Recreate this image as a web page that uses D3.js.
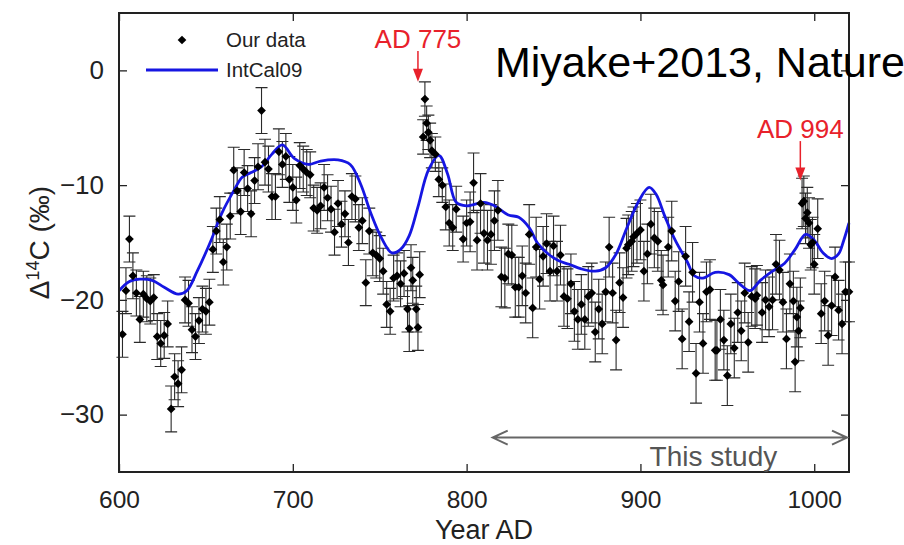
<!DOCTYPE html>
<html>
<head>
<meta charset="utf-8">
<script src="https://cdn.jsdelivr.net/npm/d3@7"></script>
<style>
  body { margin: 0; background: #fff; }
  svg { font-family: 'Liberation Sans', Arial, Helvetica, sans-serif; }
</style>
</head>
<body>
<div id="chart"></div>
<script>
// measured points: [year, D14C (permil), 1 sigma]
const ourData = [
  [602, -23.0, 2.0], [604, -19.2, 2.0], [606, -14.7, 2.0], [608, -17.9, 2.0], [610, -19.4, 2.0],
  [612, -21.7, 2.0], [614, -19.5, 2.0], [616, -19.9, 2.0], [618, -20.1, 2.0], [620, -19.8, 2.0],
  [622, -23.2, 2.0], [624, -23.8, 2.0], [626, -23.1, 2.0], [628, -22.1, 2.0], [630, -29.5, 2.0],
  [632, -26.7, 2.0], [634, -27.3, 2.0], [636, -26.1, 2.0], [638, -20.0, 2.0], [640, -20.3, 2.0],
  [642, -22.6, 2.0], [644, -23.2, 2.0], [646, -21.8, 2.0], [648, -20.8, 2.0], [650, -21.0, 2.0],
  [652, -20.2, 2.0], [654, -15.6, 2.0], [656, -14.0, 2.0], [658, -13.0, 2.0], [660, -16.7, 2.0],
  [662, -15.4, 2.0], [664, -12.7, 2.0], [666, -8.7, 2.0], [668, -10.5, 2.0], [670, -12.3, 2.0],
  [672, -8.9, 2.0], [674, -10.3, 2.0], [676, -12.5, 2.0], [678, -9.6, 2.0], [680, -8.4, 2.0],
  [682, -3.5, 2.0], [684, -8.0, 2.0], [686, -8.6, 2.0], [688, -11.0, 2.0], [690, -11.0, 2.0],
  [692, -7.1, 2.0], [694, -8.2, 2.0], [696, -7.5, 2.0], [698, -9.5, 2.0], [700, -10.2, 2.0],
  [702, -11.3, 2.0], [704, -8.3, 2.0], [706, -8.6, 2.0], [708, -8.9, 2.0], [710, -9.1, 2.0],
  [712, -12.0, 2.0], [714, -12.2, 2.0], [716, -11.8, 2.0], [718, -10.2, 2.0], [720, -11.1, 2.0],
  [722, -12.1, 2.0], [724, -14.1, 2.0], [726, -11.6, 2.0], [728, -13.4, 2.0], [730, -12.5, 2.0],
  [732, -15.0, 2.0], [734, -11.0, 2.0], [736, -11.2, 2.0], [738, -13.7, 2.0], [740, -13.1, 2.0],
  [742, -18.5, 2.0], [744, -14.0, 2.0], [746, -15.9, 2.0], [748, -16.1, 2.0], [750, -16.4, 2.0],
  [752, -17.5, 2.0], [754, -20.4, 2.0], [756, -21.0, 2.0], [758, -18.1, 2.0], [760, -17.9, 2.0],
  [762, -18.6, 2.0], [764, -17.7, 2.0], [766, -20.8, 2.0], [767, -22.5, 2.0], [768, -17.2, 2.0],
  [769, -18.3, 2.0], [771, -20.8, 2.0], [772, -22.4, 2.0], [773, -17.8, 2.0], [775, -5.8, 1.5],
  [776, -2.5, 1.5], [777, -4.6, 1.5], [778, -5.4, 1.5], [779, -6.1, 1.5], [780, -7.0, 1.5],
  [782, -7.3, 1.5], [784, -9.5, 1.5], [786, -10.0, 1.5], [788, -11.9, 2.0], [790, -13.3, 2.0],
  [792, -13.7, 2.0], [794, -12.1, 2.0], [798, -14.7, 2.0], [800, -13.3, 2.0],
  [802, -13.2, 2.6], [804, -9.8, 2.6], [806, -14.8, 2.6], [808, -11.6, 2.6], [810, -14.2, 2.6],
  [812, -14.8, 2.6], [814, -14.3, 2.6], [816, -13.1, 2.6], [818, -12.2, 2.6], [820, -18.0, 2.6],
  [822, -18.1, 2.6], [824, -16.0, 2.6], [826, -16.1, 2.6], [828, -18.9, 2.6], [830, -18.9, 2.6],
  [832, -17.9, 2.6], [834, -19.4, 2.6], [836, -14.3, 2.6], [838, -20.7, 2.6], [840, -15.4, 2.6],
  [842, -18.2, 2.6], [844, -16.2, 2.6], [846, -15.1, 2.6], [848, -17.5, 2.6], [850, -15.3, 2.6],
  [852, -17.5, 2.6], [854, -16.1, 2.6], [856, -19.7, 2.6], [858, -19.9, 2.6], [860, -18.6, 2.6],
  [862, -21.0, 2.6], [864, -21.7, 2.6], [866, -20.4, 2.6], [868, -21.7, 2.6], [870, -19.7, 2.6],
  [872, -19.4, 2.6], [874, -22.8, 2.6], [876, -20.8, 2.6], [878, -22.1, 2.6], [880, -19.3, 2.6],
  [882, -15.4, 2.6], [884, -19.4, 2.6], [886, -23.5, 2.6], [888, -18.5, 2.6], [890, -19.8, 2.6],
  [892, -15.5, 2.6], [893, -15.2, 2.6], [895, -14.9, 2.6], [896, -14.5, 2.6], [898, -14.2, 2.6],
  [900, -13.9, 2.6], [902, -17.5, 2.6], [904, -16.0, 2.6], [906, -13.4, 2.6], [908, -14.6, 2.6],
  [910, -14.9, 2.6], [912, -18.3, 2.6], [913, -18.7, 2.6], [916, -15.4, 2.6], [918, -14.0, 2.6],
  [920, -20.1, 2.6], [922, -18.4, 2.6], [924, -23.4, 2.6], [926, -16.2, 2.6], [928, -21.9, 2.6],
  [930, -17.6, 2.6], [932, -26.4, 2.6], [934, -20.2, 2.6], [936, -23.8, 2.6], [938, -19.3, 2.6],
  [940, -19.1, 2.6], [943, -24.4, 2.6], [944, -24.4, 2.6], [946, -21.7, 2.6], [948, -23.5, 2.6],
  [950, -26.6, 2.6], [952, -22.1, 2.6], [954, -24.2, 2.6], [956, -21.1, 2.6], [958, -22.7, 2.6],
  [960, -19.4, 2.6], [962, -23.7, 2.6], [964, -19.7, 2.6], [966, -19.9, 2.6], [967, -19.6, 2.6],
  [970, -21.1, 2.6], [972, -20.0, 2.6], [974, -20.6, 2.6], [976, -20.0, 2.6], [978, -16.9, 2.6],
  [980, -17.4, 2.6], [982, -20.2, 2.6], [984, -23.4, 2.6], [986, -18.6, 2.6], [988, -20.1, 2.6],
  [989, -25.4, 2.6], [990, -21.5, 2.6], [991, -22.7, 2.6], [992, -20.7, 2.6], [993, -11.6, 2.2],
  [994, -11.4, 2.2], [995, -12.9, 2.2], [996, -12.4, 2.2], [997, -13.3, 2.2], [998, -15.2, 2.2],
  [999, -15.0, 2.2], [1000, -16.9, 2.6], [1002, -13.8, 2.6], [1004, -21.2, 2.6], [1006, -20.1, 2.6],
  [1008, -23.1, 2.6], [1010, -20.5, 2.6], [1012, -18.0, 2.6], [1014, -20.9, 2.6], [1016, -22.1, 2.6],
  [1018, -19.3, 2.6], [1020, -19.3, 2.6]
]

// IntCal09 curve: [year, D14C]
const intcal09 = [
  [600, -19.2], [606, -18.4], [612, -18.2], [619, -18.3], [626, -18.9], [634, -19.5], [639, -19.2],
  [645, -17.5], [653, -14.8], [659, -12.5], [666, -10.5], [671, -9.3], [676, -8.9], [682, -8.4],
  [688, -7.3], [694, -6.5], [701, -7.7], [709, -8.2], [716, -7.9], [726, -7.8], [733, -8.2],
  [739, -9.9], [745, -12.5], [751, -14.6], [757, -15.9], [762, -15.6], [767, -14.4], [772, -11.9],
  [778, -8.7], [784, -7.4], [789, -9.0], [794, -11.5], [800, -11.8], [810, -11.5], [816, -11.8],
  [824, -12.6], [830, -12.8], [836, -13.7], [841, -15.1], [847, -16.0], [853, -16.6], [859, -16.9],
  [866, -17.3], [874, -17.5], [880, -17.2], [886, -16.0], [892, -13.8], [899, -11.4], [905, -10.2],
  [909, -10.8], [914, -12.7], [920, -14.8], [927, -16.7], [931, -17.9], [936, -18.1], [943, -17.6],
  [951, -17.8], [957, -18.6], [963, -19.2], [969, -18.3], [976, -17.5], [983, -16.8], [989, -15.6],
  [995, -14.3], [1000, -14.8], [1005, -15.9], [1010, -16.4], [1014, -16.0], [1017, -14.8], [1020, -13.3]
]

const xTicks = [600, 700, 800, 900, 1000]
const yTicks = [0, -10, -20, -30]

// event annotations: label, arrow year, arrow tip value, label baseline value
const events = [
  { label: 'AD 775', year: 772, tip: -1.0, labelAt: 1.95 },
  { label: 'AD 994', year: 992, tip: -9.6, labelAt: -5.9 }
]
const studyRange = [815, 1020]
const studyLevel = -32.0

const width = 904
const height = 545
const margin = { top: 13, right: 55, bottom: 73, left: 119 }
const boundedWidth = width - margin.left - margin.right
const boundedHeight = height - margin.top - margin.bottom

const svg = d3.select('#chart').append('svg')
  .attr('width', width)
  .attr('height', height)

svg.append('rect')
  .attr('width', width)
  .attr('height', height)
  .attr('fill', '#fff')

const plot = svg.append('g')
  .attr('transform', `translate(${margin.left}, ${margin.top})`)

const xScale = d3.scaleLinear()
  .domain([600, 1020])
  .range([0, boundedWidth])

const yScale = d3.scaleLinear()
  .domain([-35, 5])
  .range([boundedHeight, 0])

const fmt = d => d < 0 ? '\u2212' + Math.abs(d) : d

// Axes with inward ticks on all four sides
const xAxis = plot.append('g')
  .attr('transform', `translate(0, ${boundedHeight})`)
  .call(d3.axisBottom(xScale).tickValues(xTicks).tickFormat(d => d).tickSize(-8).tickPadding(19))
const xTop = plot.append('g')
  .call(d3.axisTop(xScale).tickValues(xTicks).tickFormat('').tickSize(-8))
const yAxis = plot.append('g')
  .call(d3.axisLeft(yScale).tickValues(yTicks).tickFormat(fmt).tickSize(-8).tickPadding(15))
const yRight = plot.append('g')
  .attr('transform', `translate(${boundedWidth}, 0)`)
  .call(d3.axisRight(yScale).tickValues(yTicks).tickFormat('').tickSize(-8))

;[xAxis, xTop, yAxis, yRight].forEach(a => {
  a.select('.domain').remove()
  a.selectAll('line').attr('stroke', '#222').attr('stroke-width', 1.3)
  a.selectAll('text').attr('fill', '#222').style('font-size', '24.5px')
    .style('font-family', "'Liberation Sans', Arial, sans-serif")
})
yAxis.selectAll('text').style('font-size', '26px')

// Error bars
const cap = 6
const bars = plot.append('g')
  .attr('stroke', '#2a2a2a')
  .attr('stroke-width', 1.1)
bars.selectAll('.err')
  .data(ourData)
  .enter().append('path')
  .attr('class', 'err')
  .attr('fill', 'none')
  .attr('d', d => {
    const x = xScale(d[0])
    const y1 = yScale(d[1] + d[2])
    const y2 = yScale(d[1] - d[2])
    return `M${x},${y1}V${y2}M${x - cap},${y1}H${x + cap}M${x - cap},${y2}H${x + cap}`
  })

// IntCal09 line
const line = d3.line()
  .x(d => xScale(d[0]))
  .y(d => yScale(d[1]))
  .curve(d3.curveCatmullRom.alpha(0.5))

plot.append('path')
  .datum(intcal09)
  .attr('fill', 'none')
  .attr('stroke', '#1616e2')
  .attr('stroke-width', 2.8)
  .attr('stroke-linejoin', 'round')
  .attr('d', line)

// Data diamonds
const diamond = d3.symbol(d3.symbolSquare, 38)
plot.selectAll('.pt')
  .data(ourData)
  .enter().append('path')
  .attr('class', 'pt')
  .attr('d', diamond)
  .attr('fill', '#000')
  .attr('transform', d => `translate(${xScale(d[0])}, ${yScale(d[1])}) rotate(45)`)

// Frame
plot.append('rect')
  .attr('width', boundedWidth)
  .attr('height', boundedHeight)
  .attr('fill', 'none')
  .attr('stroke', '#222')
  .attr('stroke-width', 2)

// Legend
const legend = plot.append('g')
legend.append('path')
  .attr('d', diamond)
  .attr('transform', 'translate(63, 27) rotate(45)')
legend.append('line')
  .attr('x1', 27).attr('x2', 99)
  .attr('y1', 57).attr('y2', 57)
  .attr('stroke', '#1616e2')
  .attr('stroke-width', 3)
legend.selectAll('text')
  .data(['Our data', 'IntCal09'])
  .enter().append('text')
  .attr('x', 107)
  .attr('y', (d, i) => 34 + i * 30)
  .style('font-size', '20.5px')
  .attr('fill', '#222')
  .text(d => d)

// Event arrows
const red = '#e8212b'
events.forEach(e => {
  const x = xScale(e.year)
  const yTip = yScale(e.tip)
  const yLab = yScale(e.labelAt)
  plot.append('text')
    .attr('x', x)
    .attr('y', yLab)
    .attr('text-anchor', 'middle')
    .attr('fill', red)
    .style('font-size', '26px')
    .text(e.label)
  plot.append('line')
    .attr('x1', x).attr('x2', x)
    .attr('y1', yLab + 3).attr('y2', yTip - 4)
    .attr('stroke', red)
    .attr('stroke-width', 1.5)
  plot.append('path')
    .attr('d', `M${x - 5},${yTip - 13}L${x},${yTip}L${x + 5},${yTip - 13}Z`)
    .attr('fill', red)
})

// "This study" range arrow
const gray = '#666'
const ys = yScale(studyLevel)
const sx1 = xScale(studyRange[0])
const sx2 = xScale(studyRange[1]) - 2
plot.append('path')
  .attr('d', `M${sx1},${ys}H${sx2}M${sx1 + 15},${ys - 7}L${sx1},${ys}L${sx1 + 15},${ys + 7}M${sx2 - 15},${ys - 7}L${sx2},${ys}L${sx2 - 15},${ys + 7}`)
  .attr('fill', 'none')
  .attr('stroke', gray)
  .attr('stroke-width', 2)
plot.append('text')
  .attr('x', xScale(942))
  .attr('y', ys + 28)
  .attr('text-anchor', 'middle')
  .attr('fill', '#555')
  .style('font-size', '28px')
  .text('This study')

// Axis titles
svg.append('text')
  .attr('x', margin.left + boundedWidth / 2)
  .attr('y', 539)
  .attr('text-anchor', 'middle')
  .attr('fill', '#222')
  .style('font-size', '27px')
  .text('Year AD')

const yTitle = svg.append('text')
  .attr('transform', `translate(49, ${margin.top + yScale(-15)}) rotate(-90)`)
  .attr('text-anchor', 'middle')
  .attr('fill', '#222')
  .style('font-size', '28px')
yTitle.append('tspan').text('\u0394')
yTitle.append('tspan').attr('dy', -10).style('font-size', '18px').text('14')
yTitle.append('tspan').attr('dy', 10).text('C (\u2030)')

// Overlay citation
svg.append('text')
  .attr('x', 495)
  .attr('y', 77)
  .attr('fill', '#000')
  .style('font-size', '43px')
  .text('Miyake+2013, Nature')
</script>
</body>
</html>
